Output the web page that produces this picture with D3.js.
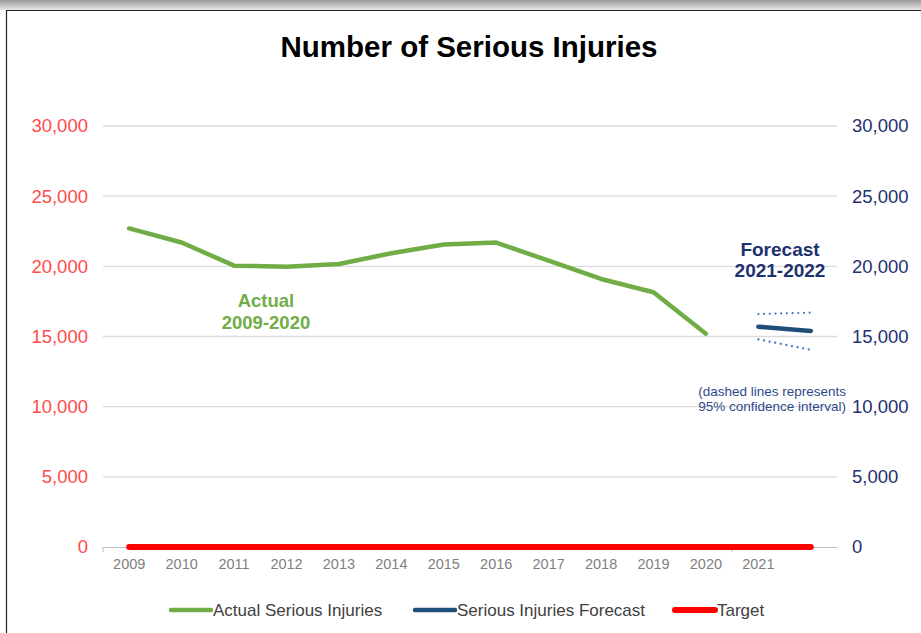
<!DOCTYPE html>
<html>
<head>
<meta charset="utf-8">
<script src="https://cdn.jsdelivr.net/npm/d3@7"></script>
<style>
  body { margin: 0; background: #fff; }
  svg { display: block; }
</style>
</head>
<body>
<svg id="chart" width="921" height="633"></svg>
<script>
// data
var years = [2009, 2010, 2011, 2012, 2013, 2014, 2015, 2016, 2017, 2018, 2019, 2020, 2021, 2022];
var actualYears = [2009, 2010, 2011, 2012, 2013, 2014, 2015, 2016, 2017, 2018, 2019, 2020];
var actual = [22700, 21700, 20050, 19970, 20170, 20930, 21550, 21690, 20400, 19100, 18150, 15200];
var forecastYears = [2021, 2022];
var forecast = [15700, 15400];
var upperCI = [16600, 16700];
var lowerCI = [14800, 14050];
var target = [0, 0, 0, 0, 0, 0, 0, 0, 0, 0, 0, 0, 0, 0];
var yTicks = [0, 5000, 10000, 15000, 20000, 25000, 30000];

var svg = d3.select("#chart");

// frame: grey shadow on top, thin dark border top and left
var grad = svg.append("defs").append("linearGradient")
  .attr("id", "shade").attr("x1", 0).attr("y1", 0).attr("x2", 0).attr("y2", 1);
grad.append("stop").attr("offset", "0%").attr("stop-color", "#9a9a9a");
grad.append("stop").attr("offset", "100%").attr("stop-color", "#e6e6e6");
svg.append("rect").attr("x", 0).attr("y", 0).attr("width", 921).attr("height", 10).attr("fill", "url(#shade)");
svg.append("line").attr("x1", 6).attr("x2", 921).attr("y1", 10.5).attr("y2", 10.5).attr("stroke", "#222").attr("stroke-width", 1.2);
svg.append("line").attr("x1", 6.5).attr("x2", 6.5).attr("y1", 10).attr("y2", 633).attr("stroke", "#222").attr("stroke-width", 1.2);

// scales
var x = d3.scaleBand().domain(years).range([103, 837]);
var cx = function(d){ return x(d) + x.bandwidth() / 2 };
var y = d3.scaleLinear().domain([0, 30000]).range([547, 126]);

// title
svg.append("text")
  .attr("x", 469).attr("y", 57)
  .attr("text-anchor", "middle")
  .style("font-family", "'Liberation Sans', Arial, sans-serif")
  .style("font-weight", "bold")
  .style("font-size", "29.5px")
  .style("fill", "#000")
  .text("Number of Serious Injuries");

// gridlines
svg.append("g")
  .selectAll("line")
  .data(yTicks.filter(function(d){ return d > 0 }))
  .enter()
  .append("line")
    .attr("x1", 103).attr("x2", 837)
    .attr("y1", function(d){ return y(d) }).attr("y2", function(d){ return y(d) })
    .attr("stroke", "#dcdcdc").attr("stroke-width", 1.3);

// left axis (red labels)
var leftAxis = svg.append("g")
  .attr("transform", "translate(103,0)")
  .call(d3.axisLeft(y).tickValues(yTicks).tickFormat(d3.format(",")).tickSize(0).tickPadding(15));
leftAxis.select(".domain").remove();
leftAxis.selectAll("text")
  .style("font-family", "'Liberation Sans', Arial, sans-serif")
  .style("font-size", "18.5px")
  .style("fill", "#ff4b4b");

// right axis (navy labels)
var rightAxis = svg.append("g")
  .attr("transform", "translate(837,0)")
  .call(d3.axisRight(y).tickValues(yTicks).tickFormat(d3.format(",")).tickSize(0).tickPadding(15));
rightAxis.select(".domain").remove();
rightAxis.selectAll("text")
  .style("font-family", "'Liberation Sans', Arial, sans-serif")
  .style("font-size", "18.5px")
  .style("fill", "#1f3170");

// category axis
var xAxis = svg.append("g")
  .attr("transform", "translate(0,547)")
  .call(d3.axisBottom(x).tickSize(0).tickPadding(12)
    .tickFormat(function(d){ return d === 2022 ? "" : d }));
xAxis.select(".domain").attr("stroke", "#bfbfbf").attr("stroke-width", 1.2);
xAxis.selectAll("text")
  .style("font-family", "'Liberation Sans', Arial, sans-serif")
  .style("font-size", "14.5px")
  .style("fill", "#7f7f7f");
// small ticks at the axis start and between 2020 and 2021
svg.append("g")
  .selectAll("line")
  .data([years[0], 2021])
  .enter()
  .append("line")
    .attr("x1", function(d){ return x(d) }).attr("x2", function(d){ return x(d) })
    .attr("y1", 547).attr("y2", 552)
    .attr("stroke", "#bfbfbf").attr("stroke-width", 1);

var line = d3.line()
  .x(function(d){ return cx(d[0]) })
  .y(function(d){ return y(d[1]) });

// target
svg.append("path")
  .datum(d3.zip(years, target))
  .attr("d", line)
  .attr("fill", "none").attr("stroke", "#ff0000").attr("stroke-width", 6)
  .attr("stroke-linecap", "round");

// actual
svg.append("path")
  .datum(d3.zip(actualYears, actual))
  .attr("d", line)
  .attr("fill", "none").attr("stroke", "#70ad47").attr("stroke-width", 4.5)
  .attr("stroke-linejoin", "round").attr("stroke-linecap", "round");

// confidence interval (dotted)
[upperCI, lowerCI].forEach(function(ci){
  svg.append("path")
    .datum(d3.zip(forecastYears, ci))
    .attr("d", line)
    .attr("fill", "none").attr("stroke", "#4a7cc4").attr("stroke-width", 2.2)
    .attr("stroke-dasharray", "0.1 5.6").attr("stroke-linecap", "round");
});

// forecast
svg.append("path")
  .datum(d3.zip(forecastYears, forecast))
  .attr("d", line)
  .attr("fill", "none").attr("stroke", "#1f4e79").attr("stroke-width", 4.5)
  .attr("stroke-linecap", "round");

// annotations
function label(lines, xPos, yPos, anchor, size, color, weight, gap) {
  var t = svg.append("text")
    .attr("text-anchor", anchor)
    .style("font-family", "'Liberation Sans', Arial, sans-serif")
    .style("font-size", size + "px")
    .style("font-weight", weight)
    .style("fill", color);
  lines.forEach(function(s, i){
    t.append("tspan").attr("x", xPos).attr("y", yPos + i * gap).text(s);
  });
}
label(["Actual", "2009-2020"], 266, 307, "middle", 18.5, "#70ad47", "bold", 22);
label(["Forecast", "2021-2022"], 780, 256, "middle", 19, "#1f3170", "bold", 21);
label(["(dashed lines represents", "95% confidence interval)"], 846, 396, "end", 13.5, "#2f4a8a", "normal", 15);

// legend
var legend = [
  {name: "Actual Serious Injuries", color: "#70ad47", x: 171},
  {name: "Serious Injuries Forecast", color: "#1f4e79", x: 415},
  {name: "Target", color: "#ff0000", x: 675}
];
var lg = svg.append("g").selectAll("g").data(legend).enter().append("g");
lg.append("line")
  .attr("x1", function(d){ return d.x }).attr("x2", function(d){ return d.x + 40 })
  .attr("y1", 610).attr("y2", 610)
  .attr("stroke", function(d){ return d.color })
  .attr("stroke-width", function(d){ return d.name === "Target" ? 6 : 4.5 })
  .attr("stroke-linecap", "round");
lg.append("text")
  .attr("x", function(d){ return d.x + 42 }).attr("y", 616)
  .style("font-family", "'Liberation Sans', Arial, sans-serif")
  .style("font-size", "17px")
  .style("fill", "#404040")
  .text(function(d){ return d.name });
</script>
</body>
</html>
